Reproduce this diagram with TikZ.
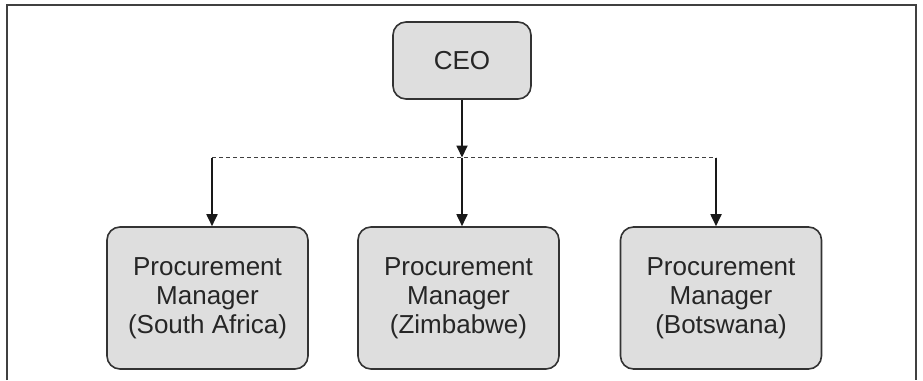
\documentclass[tikz,border=0pt]{standalone}
\usepackage{fontspec}
\setmainfont{Liberation Sans}
\usepackage{tikz}
\usetikzlibrary{arrows.meta}
\definecolor{boxfill}{HTML}{DEDEDE}
\definecolor{boxline}{HTML}{333333}
\tikzset{basic/.style={draw=boxline,fill=boxfill,line width=1.6pt,
                       rounded corners=13pt,align=center,inner sep=0pt,
                       text=black!85,font=\fontsize{26}{29}\selectfont}}
\tikzset{chief/.style={basic,minimum width=138pt,minimum height=77pt}}
\tikzset{manager/.style={basic,minimum width=201pt,minimum height=142pt}}
\tikzset{link/.style={line width=1.8pt,black!90,-{Triangle[length=12pt,width=11pt]}}}
\tikzset{bus/.style={line width=1.8pt,black!75,dash pattern=on 4pt off 3pt}}

\begin{document}
\begin{tikzpicture}[x=1pt,y=-1pt]
    % Page and frame
    \useasboundingbox (0,0) rectangle (923,380);
    \draw[line width=2pt,black!75] (7,380) -- (7,5) -- (916,5) -- (916,380);
    % Draw CEO node
    \node[chief] (ceo) at (462,60.5) {CEO};
    % Draw manager nodes
    \foreach \h/\x [count=\hi] in {South Africa/207.5,Zimbabwe/458.5,Botswana/721}{%
          \node[manager] (pm\hi) at (\x,298) {Procurement\\Manager\\(\h)};
        }
    % Points on the dotted bus
    \foreach \x [count=\hi] in {212,462,716}{%
          \coordinate (b\hi) at (\x,157.5);
        }
    % Dotted bus
    \draw[bus] (b1) -- (b3);
    % CEO down to bus
    \draw[link] (ceo) -- (b2);
    % Bus down to managers
    \foreach \hi in {1,2,3}{%
          \draw[link] (b\hi) -- (b\hi |- pm\hi.north);
        }
\end{tikzpicture}
\end{document}
